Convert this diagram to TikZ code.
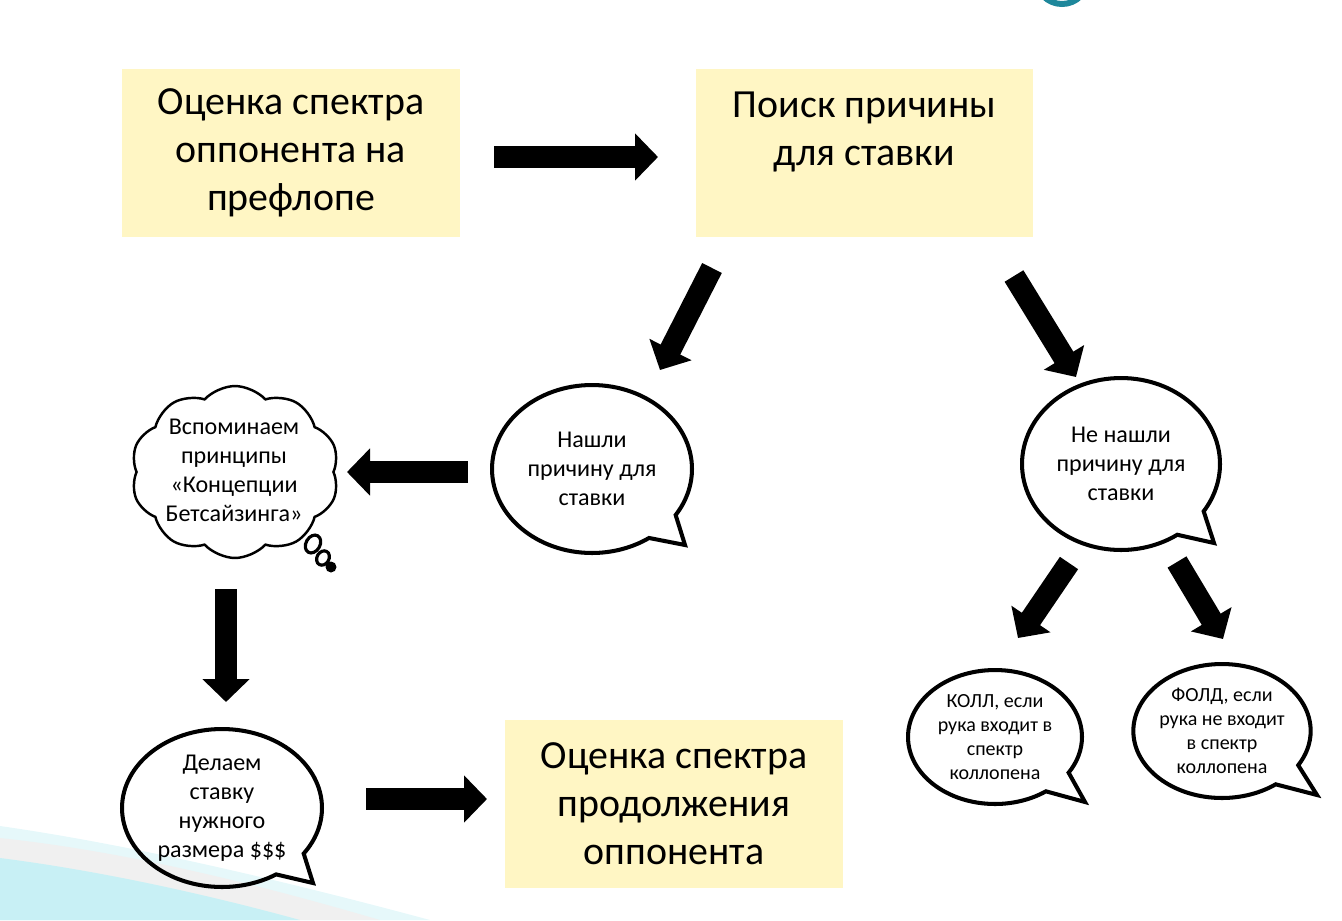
\documentclass[tikz,border=0pt]{standalone}
\usepackage{fontspec}
\setmainfont{Carlito}
\usepackage{tikz}
\usetikzlibrary{arrows.meta, shapes.callouts, shapes.symbols, backgrounds}

\definecolor{boxfill}{RGB}{255,246,196}
\definecolor{swoosh}{RGB}{200,240,245}
\definecolor{teal}{RGB}{30,135,155}

\begin{document}
\begin{tikzpicture}[x=0.02cm, y=-0.02cm,
  bigbox/.style={fill=boxfill, minimum width=6.76cm, minimum height=3.38cm, align=center, inner sep=0pt,
    font=\fontsize{22.7pt}{27.3pt}\selectfont},
  bubble/.style={ellipse callout, draw, line width=2.3pt, align=center, inner sep=0pt, callout pointer arc=22},
  midtext/.style={font=\fontsize{13.7pt}{16.5pt}\selectfont},
  smalltext/.style={font=\fontsize{11.4pt}{13.66pt}\selectfont},
  blockarrow/.style={draw, line width=0.44cm, -{Triangle[length=0.46cm, width=0.92cm]}}]

\useasboundingbox (0,0) rectangle (1342,920);

%%%%%%%%%%%%%%% slide decoration
\fill [swoosh!45] (0,826) .. controls (140,846) and (300,885) .. (430,920) -- (0,920) -- cycle;
\fill [gray!12] (0,838) .. controls (130,852) and (260,885) .. (380,920) -- (0,920) -- cycle;
\fill [swoosh] (0,858) .. controls (110,872) and (220,898) .. (300,920) -- (0,920) -- cycle;
\draw [teal, line width=0.12cm] (1062,-22) circle (26);

%%%%%%%%%%%%%%% boxes
\node [bigbox] (ocenka) at (291,153) {Оценка спектра\\оппонента на\\префлопе};
\node [bigbox] (poisk) at (864.5,153) {Поиск причины\\для ставки\\\phantom{x}};
\node [bigbox] (prodol) at (674,804) {Оценка спектра\\продолжения\\оппонента};

%%%%%%%%%%%%%%% bubbles
\node [bubble, midtext, minimum width=4cm, minimum height=3.36cm,
  callout absolute pointer={(685,545)}] (nashli) at (592,469) {Нашли\\причину для\\ставки};
\node [bubble, midtext, minimum width=3.96cm, minimum height=3.44cm,
  callout absolute pointer={(1214,543)}] (nenashli) at (1121,464) {Не нашли\\причину для\\ставки};
\node [bubble, midtext, minimum width=4cm, minimum height=3.16cm,
  callout absolute pointer={(313,883)}] (delaem) at (222,808) {Делаем\\ставку\\нужного\\размера \$\$\$};
\node [bubble, smalltext, minimum width=3.48cm, minimum height=2.68cm,
  callout absolute pointer={(1085,802)}] (koll) at (995,737) {КОЛЛ, если\\рука входит в\\спектр\\коллопена};
\node [bubble, smalltext, minimum width=3.48cm, minimum height=2.68cm,
  callout absolute pointer={(1317,795)}] (fold) at (1222,731) {ФОЛД, если\\рука не входит\\в спектр\\коллопена};

%%%%%%%%%%%%%%% cloud
\node [cloud, draw, line width=1.4pt, cloud puffs=10, cloud puff arc=95, aspect=1.25,
  minimum width=4.16cm, minimum height=3.44cm] (oblako) at (235,472) {};
\node [midtext, align=center] (vspom) at (234,470) {Вспоминаем\\принципы\\«Концепции\\Бетсайзинга»};
\draw [line width=1.8pt, rotate around={-30:(313,544)}] (313,544) ellipse (7 and 9.5);
\draw [line width=1.8pt, rotate around={-30:(323,558)}] (323,558) ellipse (6 and 7.5);
\fill (331,567) circle (5.5);

%%%%%%%%%%%%%%% arrows
\coordinate (a1s) at (494,157); \coordinate (a1e) at (658,157);
\coordinate (a2s) at (712,268); \coordinate (a2e) at (660,370);
\coordinate (a3s) at (1014,276); \coordinate (a3e) at (1076,377);
\coordinate (a4s) at (468,472); \coordinate (a4e) at (347,472);
\coordinate (a5s) at (226,589); \coordinate (a5e) at (226,702);
\coordinate (a6s) at (366,799); \coordinate (a6e) at (487,799);
\coordinate (a7s) at (1069,563); \coordinate (a7e) at (1018,638);
\coordinate (a8s) at (1177,562); \coordinate (a8e) at (1223,639);

\draw [blockarrow] (a1s) -- (a1e);
\draw [blockarrow] (a2s) -- (a2e);
\draw [blockarrow] (a3s) -- (a3e);
\draw [blockarrow] (a4s) -- (a4e);
\draw [blockarrow] (a5s) -- (a5e);
\draw [blockarrow] (a6s) -- (a6e);
\draw [blockarrow] (a7s) -- (a7e);
\draw [blockarrow] (a8s) -- (a8e);

\end{tikzpicture}
\end{document}
